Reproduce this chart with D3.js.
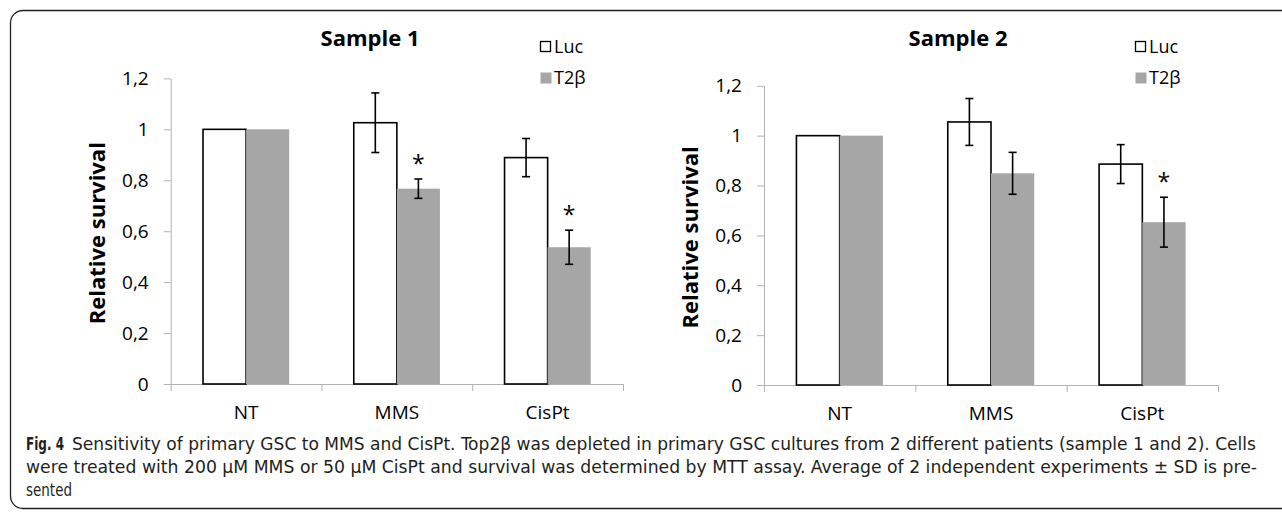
<!DOCTYPE html>
<html>
<head>
<meta charset="utf-8">
<script src="https://cdn.jsdelivr.net/npm/d3@7"></script>
<style>
  body { margin: 0; background: #fff; }
  svg { display: block; }
  .chart text { font-family: "Open Sans", "Noto Sans", sans-serif; fill: #000; }
  .caption text { font-family: "Liberation Sans Narrow", "DejaVu Sans Condensed", "Liberation Sans", sans-serif; fill: #231f20; }
</style>
</head>
<body>
<svg id="fig" width="1282" height="513"></svg>
<script>
// categories and series
var categories = ["NT", "MMS", "CisPt"];
var seriesNames = ["Luc", "T2β"];
var yTicks = [0, 0.2, 0.4, 0.6, 0.8, 1, 1.2];

// sample 1 (mean, SD)
var s1Luc = [1.0, 1.026, 0.889];
var s1LucSd = [0, 0.117, 0.075];
var s1T2b = [1.0, 0.767, 0.537];
var s1T2bSd = [0, 0.038, 0.067];
var s1Star = [false, true, true];

// sample 2 (mean, SD)
var s2Luc = [1.0, 1.055, 0.886];
var s2LucSd = [0, 0.094, 0.078];
var s2T2b = [1.0, 0.849, 0.653];
var s2T2bSd = [0, 0.084, 0.100];
var s2Star = [false, false, true];

var captionLines = [
    "Sensitivity of primary GSC to MMS and CisPt. Top2β was depleted in primary GSC cultures from 2 different patients (sample 1 and 2). Cells",
    "were treated with 200 µM MMS or 50 µM CisPt and survival was determined by MTT assay. Average of 2 independent experiments ± SD is pre-",
    "sented"
];

var svg = d3.select("#fig");
var barGray = "#a6a6a6";
var axisGray = "#b3b3b3";
var fmt = function(d){ return String(d).replace(".", ","); };

// frame round the figure
svg.append("path")
    .attr("d", "M1290,10.5 H23 A12.5,12.5 0 0 0 10.5,23 V496 A12.5,12.5 0 0 0 23,508.5 H1290")
    .attr("fill", "none")
    .attr("stroke", "#231f20")
    .attr("stroke-width", 1.3);

function drawPanel(opt) {
    var g = svg.append("g").attr("class", "chart");

    var x = d3.scaleBand().domain(categories).range([opt.x0, opt.x1]).padding(0);
    var xs = d3.scaleBand().domain(seriesNames).range([0, x.bandwidth()])
        .paddingInner(0).paddingOuter(0.75);
    var y = d3.scaleLinear().domain([0, 1.2]).range([opt.y0, opt.y1]);

    // y axis
    var yAxis = g.append("g")
        .attr("transform", "translate(" + opt.x0 + ",0)")
        .call(d3.axisLeft(y).tickValues(yTicks).tickFormat(fmt)
            .tickSize(7).tickSizeOuter(0).tickPadding(15));
    yAxis.selectAll("path,line").attr("stroke", axisGray);
    yAxis.selectAll("text").style("font-size", "19px").attr("fill", "#000");

    // x axis: tick marks at category borders
    var xb = d3.scaleLinear().domain([0, categories.length]).range([opt.x0, opt.x1]);
    var xAxis = g.append("g")
        .attr("transform", "translate(0," + opt.y0 + ")")
        .call(d3.axisBottom(xb).tickValues(d3.range(categories.length + 1))
            .tickFormat("").tickSize(7).tickSizeOuter(0));
    xAxis.selectAll("path,line").attr("stroke", axisGray);

    var xLab = g.append("g")
        .attr("transform", "translate(0," + opt.y0 + ")")
        .call(d3.axisBottom(x).tickSize(0).tickPadding(22));
    xLab.select(".domain").remove();
    xLab.selectAll("text").style("font-size", "19px").attr("fill", "#000");

    var rows = categories.map(function(c, i){
        return [
            {cat: c, s: "Luc", v: opt.luc[i], sd: opt.lucSd[i], star: false},
            {cat: c, s: "T2β", v: opt.t2b[i], sd: opt.t2bSd[i], star: opt.star[i]}
        ];
    });
    var flat = [].concat.apply([], rows);

    // bars
    g.selectAll("rect.bar").data(flat).enter().append("rect")
        .attr("class", "bar")
        .attr("x", function(d){ return x(d.cat) + xs(d.s); })
        .attr("y", function(d){ return y(d.v); })
        .attr("width", xs.bandwidth())
        .attr("height", function(d){ return y(0) - y(d.v); })
        .attr("fill", function(d){ return d.s === "Luc" ? "#fff" : barGray; })
        .attr("stroke", function(d){ return d.s === "Luc" ? "#000" : "none"; })
        .attr("stroke-width", 1.6);

    // error bars
    var err = flat.filter(function(d){ return d.sd > 0; });
    var cx = function(d){ return x(d.cat) + xs(d.s) + xs.bandwidth() / 2; };
    var eg = g.selectAll("g.err").data(err).enter().append("g").attr("class", "err")
        .attr("stroke", "#000").attr("stroke-width", 1.6);
    eg.append("line")
        .attr("x1", cx).attr("x2", cx)
        .attr("y1", function(d){ return y(d.v + d.sd); })
        .attr("y2", function(d){ return y(d.v - d.sd); });
    eg.append("line")
        .attr("x1", function(d){ return cx(d) - 4; }).attr("x2", function(d){ return cx(d) + 4; })
        .attr("y1", function(d){ return y(d.v + d.sd); })
        .attr("y2", function(d){ return y(d.v + d.sd); });
    eg.append("line")
        .attr("x1", function(d){ return cx(d) - 4; }).attr("x2", function(d){ return cx(d) + 4; })
        .attr("y1", function(d){ return y(d.v - d.sd); })
        .attr("y2", function(d){ return y(d.v - d.sd); });

    // significance stars
    g.selectAll("text.star").data(flat.filter(function(d){ return d.star; })).enter()
        .append("text").attr("class", "star")
        .attr("x", cx)
        .attr("y", function(d){ return y(d.v + d.sd) - 7; })
        .attr("text-anchor", "middle")
        .style("font-size", "23px")
        .text("*");

    // title
    g.append("text")
        .attr("x", opt.titleX).attr("y", 46)
        .attr("text-anchor", "middle")
        .style("font-size", "22px").style("font-weight", "bold")
        .text(opt.title);

    // y axis title
    g.append("text")
        .attr("transform", "translate(" + (opt.x0 - 66) + "," + ((opt.y0 + opt.y1) / 2 + 2) + ") rotate(-90)")
        .attr("text-anchor", "middle")
        .style("font-size", "22px").style("font-weight", "bold")
        .text("Relative survival");

    // legend
    var lg = g.append("g").attr("transform", "translate(" + opt.legX + ",41)");
    seriesNames.forEach(function(s, i){
        lg.append("rect")
            .attr("x", 0.5).attr("y", i * 31 + 0.5)
            .attr("width", s === "Luc" ? 10 : 11).attr("height", s === "Luc" ? 10 : 11)
            .attr("fill", s === "Luc" ? "#fff" : barGray)
            .attr("stroke", s === "Luc" ? "#000" : "none")
            .attr("stroke-width", 1.3);
        lg.append("text")
            .attr("x", 14).attr("y", i * 31 + 12)
            .style("font-size", "18px")
            .text(s);
    });
}

drawPanel({x0: 170.7, x1: 623, y0: 384, y1: 78.4, title: "Sample 1", titleX: 370, legX: 540,
    luc: s1Luc, lucSd: s1LucSd, t2b: s1T2b, t2bSd: s1T2bSd, star: s1Star});
drawPanel({x0: 764, x1: 1218, y0: 385, y1: 85.8, title: "Sample 2", titleX: 958, legX: 1135,
    luc: s2Luc, lucSd: s2LucSd, t2b: s2T2b, t2bSd: s2T2bSd, star: s2Star});

// caption
var cap = svg.append("g").attr("class", "caption");
cap.append("text")
    .attr("x", 26).attr("y", 450)
    .style("font-size", "18px").style("font-weight", "bold")
    .attr("textLength", 38).attr("lengthAdjust", "spacingAndGlyphs")
    .text("Fig. 4");
var capWidths = [1184, 1231, 46];
var capX = [72, 26, 26];
captionLines.forEach(function(t, i){
    cap.append("text")
        .attr("x", capX[i]).attr("y", 450 + i * 23)
        .style("font-size", "17px")
        .attr("textLength", capWidths[i]).attr("lengthAdjust", "spacingAndGlyphs")
        .text(t);
});
</script>
</body>
</html>
